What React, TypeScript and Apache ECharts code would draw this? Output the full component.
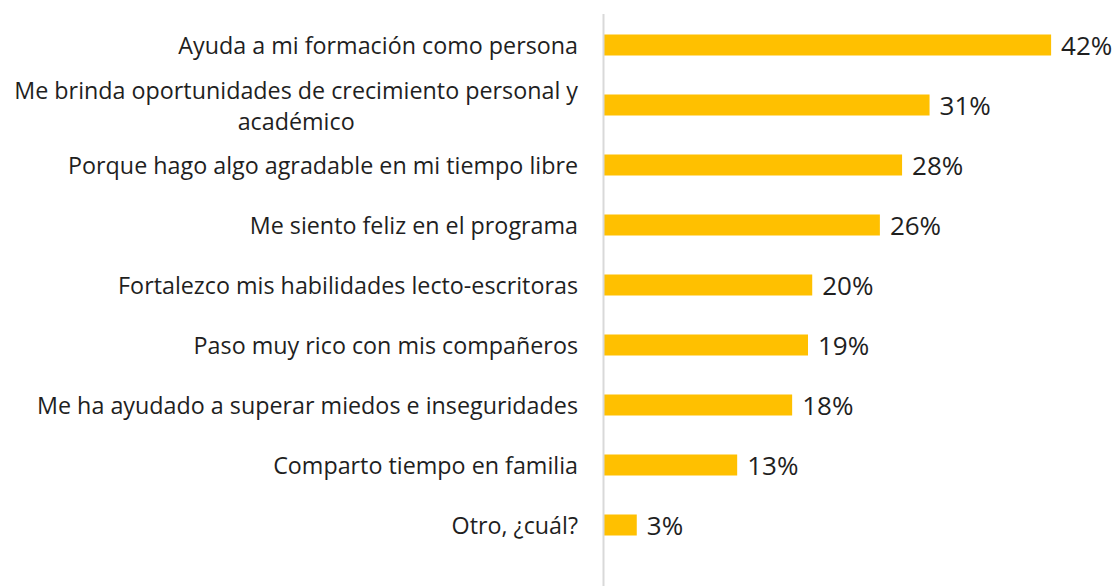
import React, { useEffect, useRef } from "react";
import * as echarts from "echarts";

const categories = [
  "Ayuda a mi formación como persona",
  "Me brinda oportunidades de crecimiento personal y\nacadémico",
  "Porque hago algo agradable en mi tiempo libre",
  "Me siento feliz en el programa",
  "Fortalezco mis habilidades lecto-escritoras",
  "Paso muy rico con mis compañeros",
  "Me ha ayudado a superar miedos e inseguridades",
  "Comparto tiempo en familia",
  "Otro, ¿cuál?",
];
const values = [42.3, 30.8, 28.2, 26.1, 19.7, 19.3, 17.8, 12.6, 3.1];

export default function App() {
  const ref = useRef<HTMLDivElement>(null);
  useEffect(() => {
    document.body.style.margin = "0";
    const chart = echarts.init(ref.current!, null, { renderer: "svg" });
    const font = "Open Sans";
    chart.setOption({
      animation: false,
      backgroundColor: "#ffffff",
      grid: { left: 604, right: 38.35, top: 15, bottom: 31, containLabel: false },
      xAxis: {
        type: "value",
        min: 0,
        max: 45,
        show: false,
        splitLine: { show: false },
      },
      yAxis: {
        type: "category",
        data: categories,
        inverse: true,
        axisLine: { show: false },
        axisTick: { show: false },
        axisLabel: {
          margin: 26,
          fontFamily: font,
          fontSize: 23.3,
          color: "#1f1f1f",
          formatter: (v: string) =>
            v
              .split("\n")
              .map((l) => "{c|" + l + "}")
              .join("\n"),
          rich: {
            c: {
              align: "center",
              fontFamily: font,
              fontSize: 23.3,
              color: "#1f1f1f",
              lineHeight: 31,
            },
          },
        },
      },
      graphic: [
        {
          type: "line",
          shape: { x1: 603.5, y1: 14, x2: 603.5, y2: 586 },
          style: { stroke: "#d9d9d9", lineWidth: 2 },
          z: 10,
        },
      ],
      series: [
        {
          type: "bar",
          data: values,
          barWidth: 21,
          itemStyle: { color: "#ffc000" },
          label: {
            show: true,
            position: "right",
            distance: 10,
            fontFamily: font,
            fontSize: 26,
            color: "#1f1f1f",
            formatter: (p: any) => Math.round(p.value) + "%",
          },
        },
      ],
    });
    return () => chart.dispose();
  }, []);
  return <div ref={ref} style={{ width: 1118, height: 586 }} />;
}
